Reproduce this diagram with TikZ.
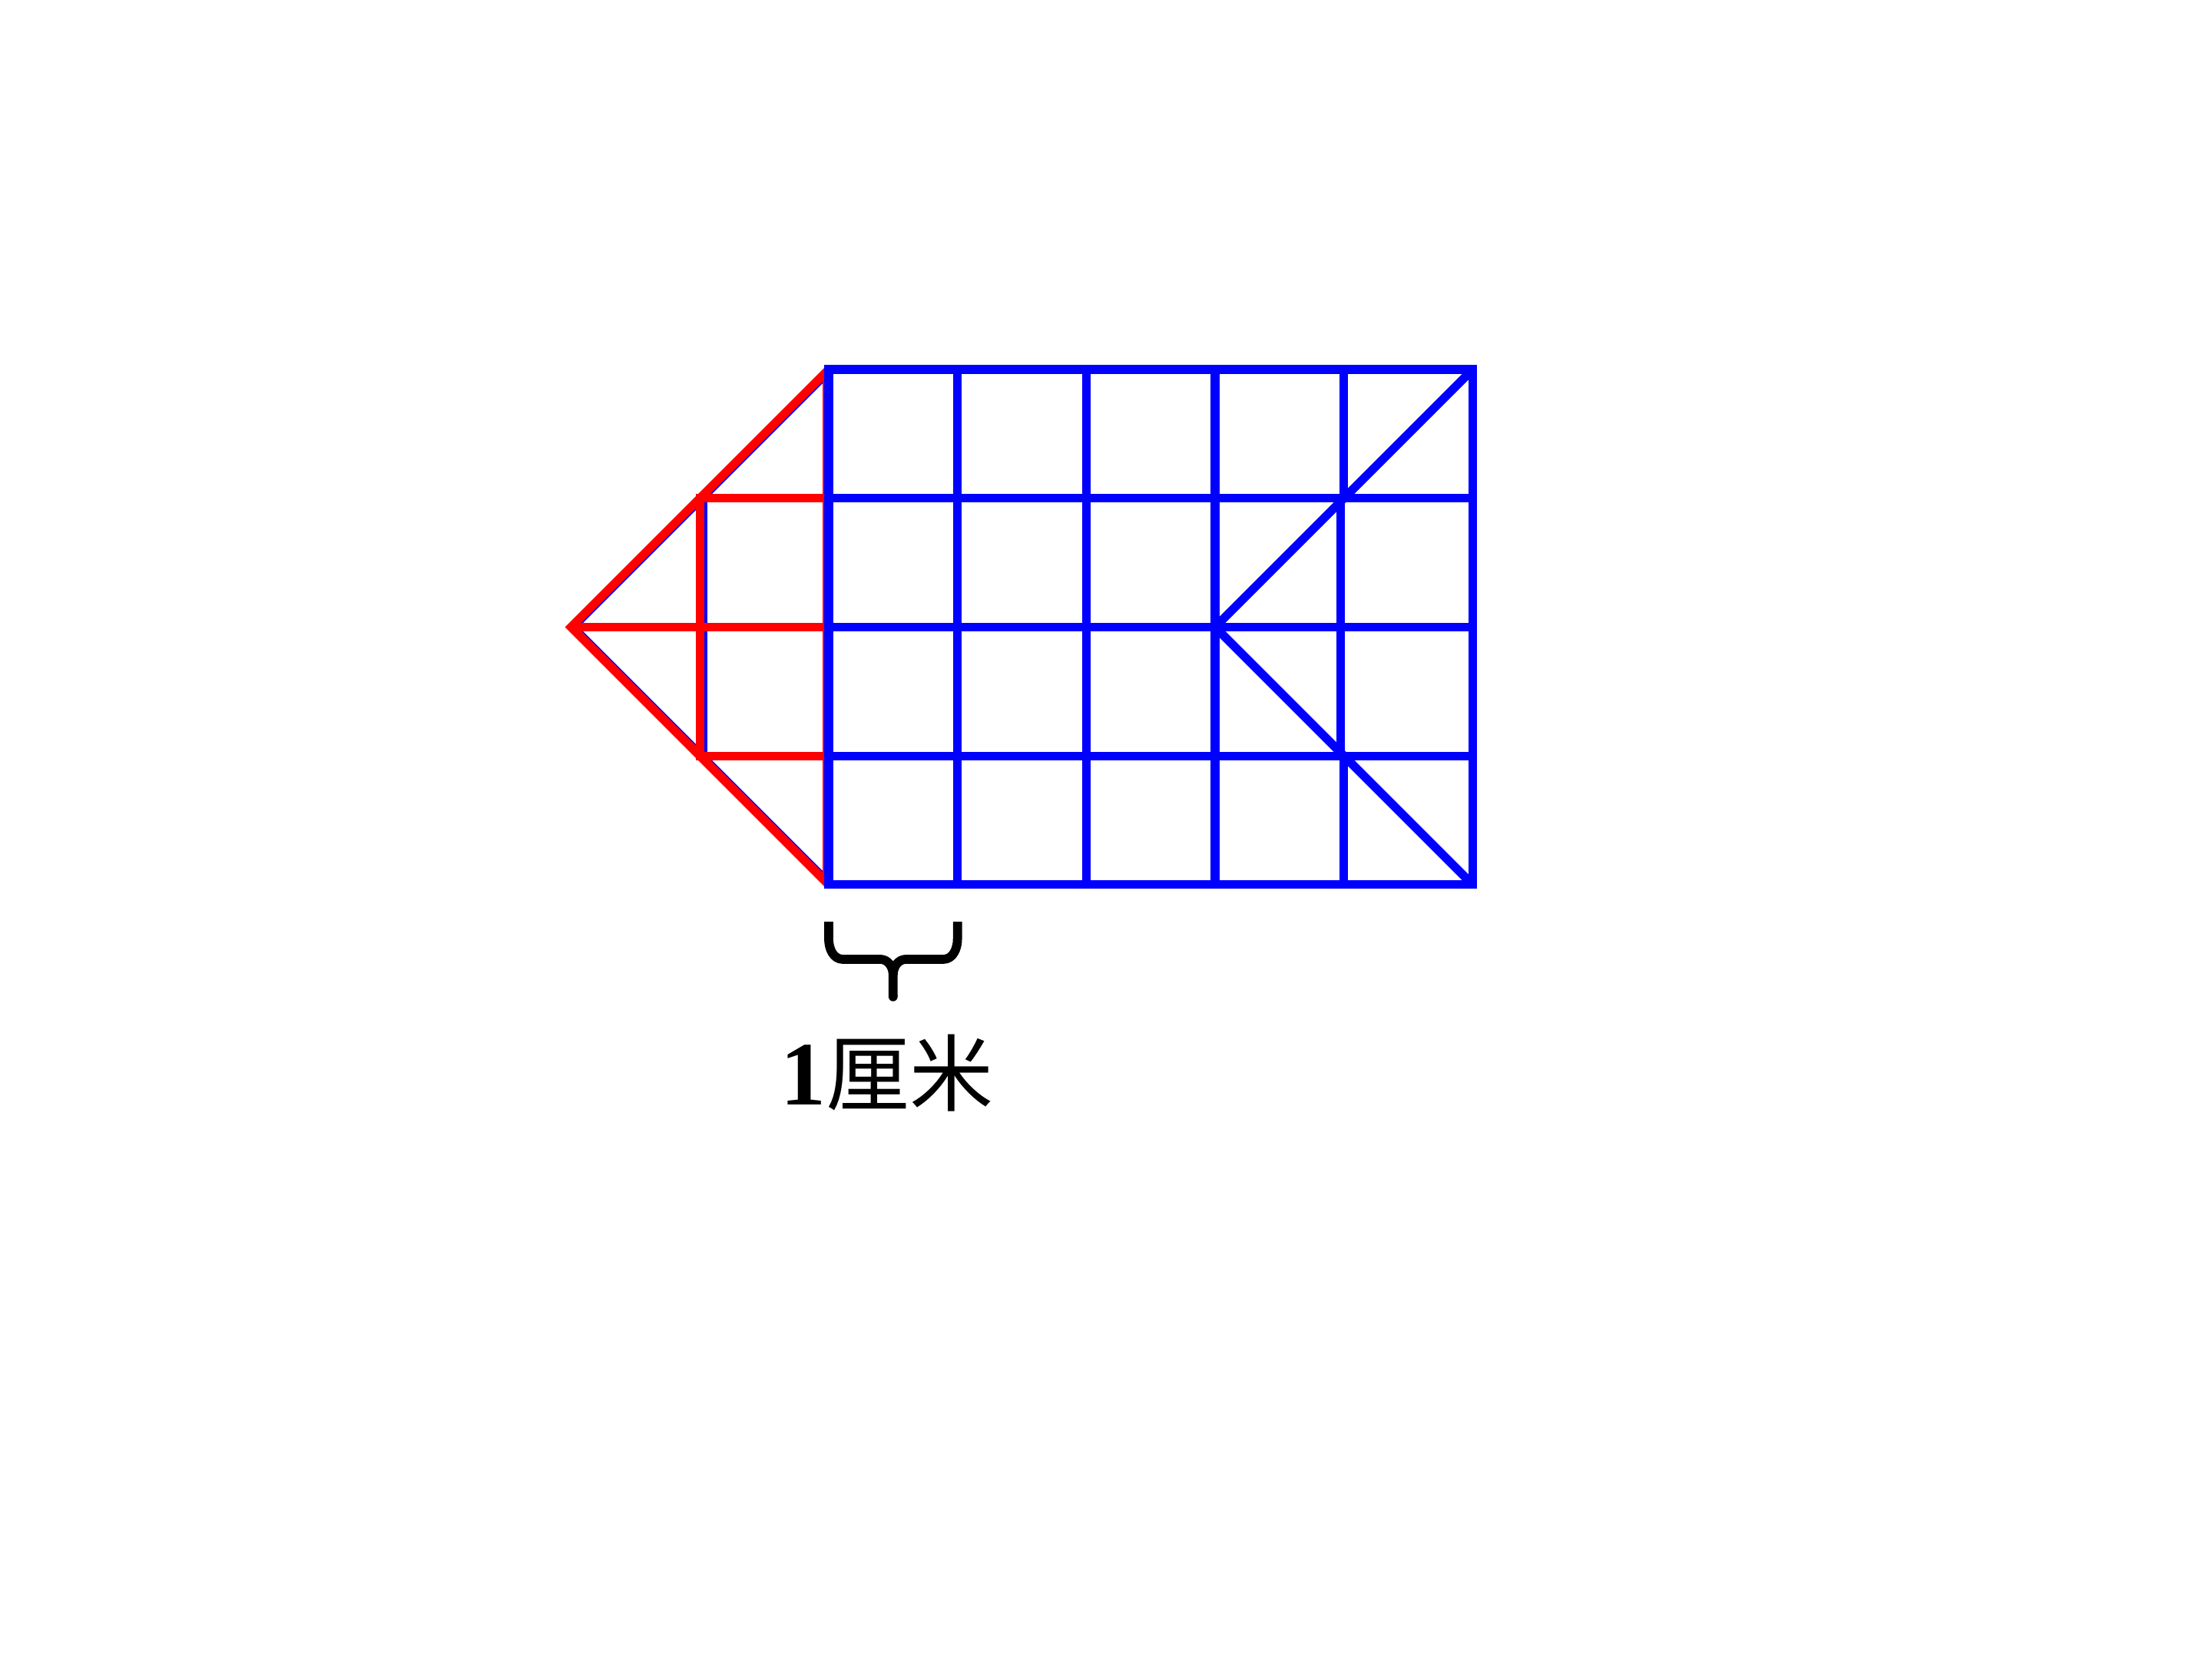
\documentclass[tikz,border=0pt]{standalone}
\usepackage{fontspec}
\setmainfont{Liberation Serif}
\newfontfamily\cjkfont{Noto Sans CJK SC}
\begin{document}
\begin{tikzpicture}[x=1cm,y=1cm,
  bl/.style={draw=blue, line width=1.9pt},
  rd/.style={draw=red, line width=1.9pt},
  bracestroke/.style={draw=black, line width=2pt, line cap=butt, line join=round}]
\useasboundingbox (0,0) rectangle (17.174,12.880);
\begin{scope}[shift={(6.434,6.011)}]
  % blue copy peeking beside the red figure
  \draw[bl, xshift=0.013cm] (-2,2) -- (0,4) (-2,2) -- (0,0);
  \draw[bl, xshift=0.024cm] (-1,1) -- (-1,3);
  % red left figure
  \draw[rd, line join=miter] (0,4) -- (-2,2) -- (0,0);
  \draw[rd] (-2,2) -- (0,2);
  \draw[rd] (-1,3) -- (0,3);
  \draw[rd] (-1,1) -- (0,1);
  \draw[rd, line cap=rect] (-1,1) -- (-1,3);
  \draw[rd] (-0.015,0) -- (-0.015,4);
  % blue grid
  \foreach \r in {1,2,3} { \draw[bl] (0,\r) -- (5,\r); }
  \foreach \c in {1,2,3} { \draw[bl] (\c,0) -- (\c,4); }
  \draw[bl] (4,3) -- (4,4);
  \draw[bl] (4,0) -- (4,1);
  \draw[bl] (3.975,1) -- (3.975,3);
  \draw[bl, line join=miter] (0,0) rectangle (5,4);
  \draw[bl] (3,2) -- (5,4);
  \draw[bl] (3,2) -- (5,0);
  % brace
  \coordinate (bl) at (0,-0.287);
  \coordinate (br) at (1,-0.287);
  \coordinate (tip) at (0.5,-0.87);
  \draw[bracestroke] (bl) -- (0,-0.42) to[out=-90,in=180] (0.11,-0.579) -- (0.40,-0.579)
        to[out=0,in=90] (0.5,-0.70) -- (tip);
  \draw[bracestroke] (br) -- (1,-0.42) to[out=-90,in=0] (0.89,-0.579) -- (0.60,-0.579)
        to[out=180,in=90] (0.5,-0.70);
  \fill (tip) circle (1pt);
\end{scope}
\node[anchor=base, inner sep=0pt] (label) at (6.89,4.30)
  {\fontsize{18.5}{22}\selectfont{\fontsize{20}{22}\selectfont\bfseries 1}{\cjkfont 厘米}};
\end{tikzpicture}
\end{document}
